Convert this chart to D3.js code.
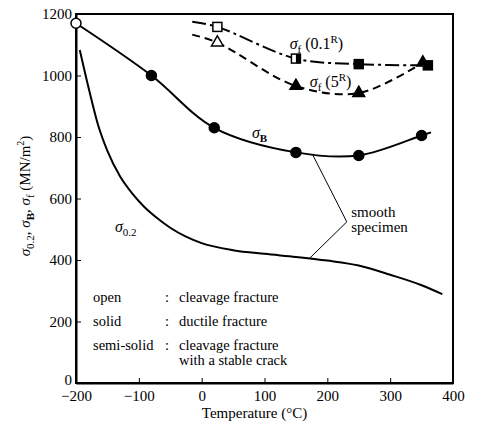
<!DOCTYPE html>
<html>
<head>
<meta charset="utf-8">
<script src="https://cdn.jsdelivr.net/npm/d3@7"></script>
<style>
  body { margin: 0; background: #fff; }
  svg text { font-family: "Liberation Serif", "DejaVu Serif", serif; fill: #000; }
  .axis path, .axis line { stroke: #000; }
</style>
</head>
<body>
<svg id="chart" width="480" height="421"></svg>
<script>
// tick values
const xTicks = [-200, -100, 0, 100, 200, 300, 400];
const yTicks = [0, 200, 400, 600, 800, 1000, 1200];

// sigma 0.2 curve (smooth specimen)
const s02Temp = [-194, -180, -165, -150, -130, -110, -90, -70, -50, -25, 0, 50, 100, 150, 200, 250, 300, 350, 383];
const s02Val  = [1083, 960, 840, 755, 672, 615, 570, 535, 505, 476, 455, 432, 420, 410, 398, 382, 352, 318, 289];

// sigma B curve + markers
const sBTemp = [-200, -80, 20, 150, 250, 350, 365];
const sBVal  = [1170, 1000, 830, 750, 740, 805, 815];
const sBMarkTemp = [-200, -80, 20, 150, 250, 350];
const sBMarkVal  = [1170, 1000, 830, 750, 740, 805];
const sBMarkFill = ["open", "solid", "solid", "solid", "solid", "solid"];

// sigma f (0.1R) notched, dash-dot
const f01Temp = [-15, 25, 150, 250, 360];
const f01Val  = [1175, 1158, 1055, 1037, 1033];
const f01MarkTemp = [25, 150, 250, 360];
const f01MarkVal  = [1158, 1055, 1037, 1033];
const f01MarkFill = ["open", "semi", "solid", "solid"];

// sigma f (5R) notched, dashed
const f5Temp = [-15, 25, 150, 250, 352];
const f5Val  = [1133, 1107, 966, 943, 1042];
const f5MarkTemp = [25, 150, 250, 352];
const f5MarkVal  = [1107, 966, 943, 1042];
const f5MarkFill = ["open", "solid", "solid", "solid"];

const legendKeys = ["open", "solid", "semi-solid"];
const legendDesc = [["cleavage fracture"], ["ductile fracture"], ["cleavage fracture", "with a stable crack"]];

const svg = d3.select("#chart");
const margin = { top: 14, right: 27, bottom: 38, left: 76 };
const width = 480 - margin.left - margin.right;
const height = 421 - margin.top - margin.bottom;

const g = svg.append("g").attr("transform", `translate(${margin.left},${margin.top})`);

const x = d3.scaleLinear().domain([-200, 400]).range([0, width]);
const y = d3.scaleLinear().domain([0, 1200]).range([height, 0]);

// frame
g.append("rect")
    .attr("width", width).attr("height", height)
    .attr("fill", "none").attr("stroke", "#000").attr("stroke-width", 2);

g.append("g")
    .attr("class", "axis")
    .attr("transform", `translate(0,${height})`)
    .call(d3.axisBottom(x).tickValues(xTicks).tickFormat(d3.format("d")).tickSize(-5).tickSizeOuter(0).tickPadding(7))
    .call(a => a.attr("font-family", null).attr("font-size", 15))
    .call(a => a.select(".domain").attr("stroke-width", 2));

g.append("g")
    .attr("class", "axis")
    .call(d3.axisLeft(y).tickValues(yTicks).tickFormat(d3.format("d")).tickSize(-5).tickSizeOuter(0).tickPadding(4))
    .call(a => a.attr("font-family", null).attr("font-size", 15))
    .call(a => a.select(".domain").attr("stroke-width", 2))
    .call(a => a.selectAll(".tick text").filter(d => d === 0).attr("dy", "0.1em"));

// axis titles
svg.append("text")
    .attr("x", margin.left + width / 2 - 10).attr("y", 418)
    .attr("text-anchor", "middle").attr("font-size", 15)
    .text("Temperature (°C)");

const yLab = svg.append("text")
    .attr("transform", "translate(30,196) rotate(-90)")
    .attr("text-anchor", "middle").attr("font-size", 15);
yLab.append("tspan").attr("font-style", "italic").text("σ");
yLab.append("tspan").attr("font-size", 11).attr("dy", 4).text("0.2");
yLab.append("tspan").attr("dy", -4).text(", ");
yLab.append("tspan").attr("font-style", "italic").text("σ");
yLab.append("tspan").attr("font-size", 11).attr("dy", 4).attr("font-weight", "bold").text("B");
yLab.append("tspan").attr("dy", -4).text(", ");
yLab.append("tspan").attr("font-style", "italic").text("σ");
yLab.append("tspan").attr("font-size", 11).attr("dy", 4).text("f");
yLab.append("tspan").attr("dy", -4).text("  (MN/m");
yLab.append("tspan").attr("font-size", 10).attr("dy", -6).text("2");
yLab.append("tspan").attr("dy", 6).text(")");

function zip(xs, ys) { return xs.map((v, i) => [v, ys[i]]); }

const smooth = d3.line()
    .x(d => x(d[0]))
    .y(d => y(d[1]))
    .curve(d3.curveMonotoneX);

const line = d3.line()
    .x(d => x(d[0]))
    .y(d => y(d[1]))
    .curve(d3.curveCatmullRom.alpha(0.5));

g.append("path").datum(zip(s02Temp, s02Val))
    .attr("d", smooth).attr("fill", "none").attr("stroke", "#000").attr("stroke-width", 2);
g.append("path").datum(zip(sBTemp, sBVal))
    .attr("d", line).attr("fill", "none").attr("stroke", "#000").attr("stroke-width", 2);
g.append("path").datum(zip(f01Temp, f01Val))
    .attr("d", line).attr("fill", "none").attr("stroke", "#000").attr("stroke-width", 2)
    .attr("stroke-dasharray", "14,4,3,4");
g.append("path").datum(zip(f5Temp, f5Val))
    .attr("d", line).attr("fill", "none").attr("stroke", "#000").attr("stroke-width", 2)
    .attr("stroke-dasharray", "8,5");

// markers
g.selectAll(".mB").data(zip(sBMarkTemp, sBMarkVal))
    .join("circle")
    .attr("cx", d => x(d[0])).attr("cy", d => y(d[1])).attr("r", 5)
    .attr("fill", (d, i) => sBMarkFill[i] === "open" ? "#fff" : "#000")
    .attr("stroke", "#000").attr("stroke-width", 1.5);

const sq = 9;
const mf = g.selectAll(".mF").data(zip(f01MarkTemp, f01MarkVal)).join("g")
    .attr("transform", d => `translate(${x(d[0])},${y(d[1])})`);
mf.append("rect")
    .attr("x", -sq / 2).attr("y", -sq / 2).attr("width", sq).attr("height", sq)
    .attr("fill", (d, i) => f01MarkFill[i] === "solid" ? "#000" : "#fff")
    .attr("stroke", "#000").attr("stroke-width", 1.5);
mf.filter((d, i) => f01MarkFill[i] === "semi").append("rect")
    .attr("x", 0).attr("y", -sq / 2).attr("width", sq / 2).attr("height", sq)
    .attr("fill", "#000");

const tri = d3.symbol().type(d3.symbolTriangle).size(60);
g.selectAll(".mT").data(zip(f5MarkTemp, f5MarkVal))
    .join("path")
    .attr("d", tri)
    .attr("transform", d => `translate(${x(d[0])},${y(d[1])})`)
    .attr("fill", (d, i) => f5MarkFill[i] === "open" ? "#fff" : "#000")
    .attr("stroke", "#000").attr("stroke-width", 1.5);

// curve labels
function sigmaLabel(px, py, sub, extra, bold) {
    const t = g.append("text").attr("x", px).attr("y", py).attr("font-size", 16);
    t.append("tspan").attr("font-style", "italic").text("σ");
    const s = t.append("tspan").attr("font-size", 11).attr("dy", 4).text(sub);
    if (bold) s.attr("font-weight", "bold");
    if (extra) extra(t);
    return t;
}

sigmaLabel(x(-138), y(492), "0.2");
sigmaLabel(x(80), y(797), "B", null, true);
sigmaLabel(x(140), y(1086), "f", t => {
    t.append("tspan").attr("dy", -4).text(" (0.1");
    t.append("tspan").attr("font-size", 11).attr("dy", -6).text("R");
    t.append("tspan").attr("dy", 6).text(")");
});
sigmaLabel(x(172), y(962), "f", t => {
    t.append("tspan").attr("dy", -4).text(" (5");
    t.append("tspan").attr("font-size", 11).attr("dy", -6).text("R");
    t.append("tspan").attr("dy", 6).text(")");
});

// smooth specimen leader
const leader = [[176, 745], [231, 524], [172, 406]];
g.append("path")
    .datum(leader)
    .attr("d", d3.line().x(d => x(d[0])).y(d => y(d[1])))
    .attr("fill", "none").attr("stroke", "#000").attr("stroke-width", 1);
g.append("text").attr("x", x(238)).attr("y", y(540)).attr("font-size", 15).text("smooth");
g.append("text").attr("x", x(238)).attr("y", y(490)).attr("font-size", 15).text("specimen");

// legend text
const legY = [297, 321, 345];
legendKeys.forEach((k, i) => {
    svg.append("text").attr("x", 93).attr("y", legY[i] + 5).attr("font-size", 14.5).text(k);
    svg.append("text").attr("x", 165).attr("y", legY[i] + 5).attr("font-size", 14.5).text(":");
    legendDesc[i].forEach((s, j) => {
        svg.append("text").attr("x", 179).attr("y", legY[i] + 5 + j * 15).attr("font-size", 14.5).text(s);
    });
});
</script>
</body>
</html>
